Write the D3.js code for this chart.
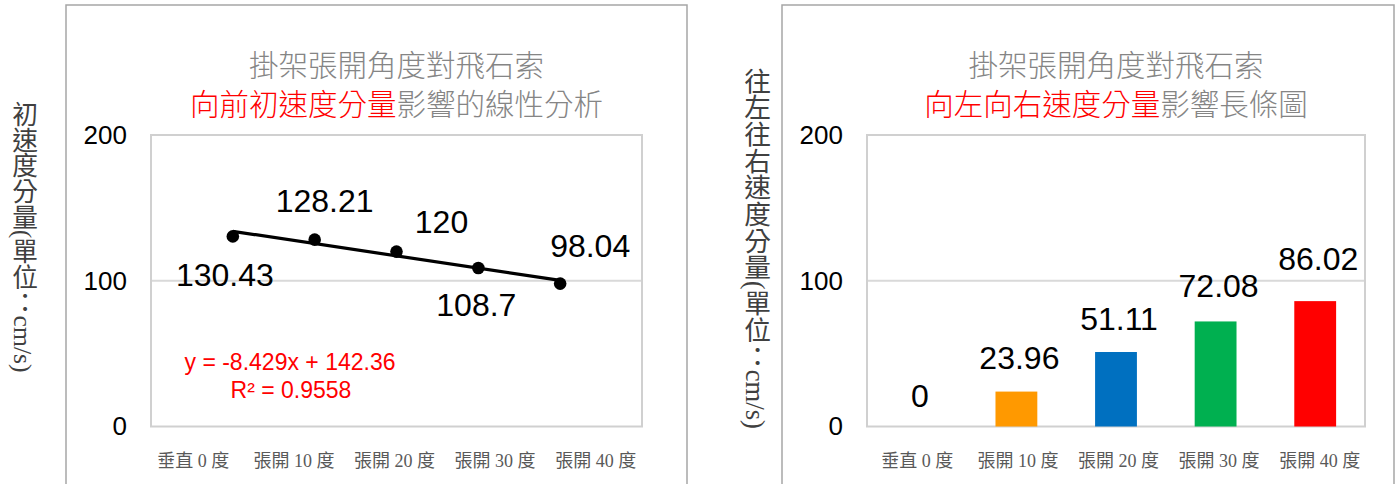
<!DOCTYPE html>
<html>
<head>
<meta charset="utf-8">
<script src="https://cdn.jsdelivr.net/npm/d3@7"></script>
<style>
  html, body { margin: 0; padding: 0; background: #fff; }
  svg { display: block; }
</style>
</head>
<body>
<svg id="chart" width="1400" height="484"></svg>
<script>
// ---- data ----
const categories = ["垂直 0 度", "張開 10 度", "張開 20 度", "張開 30 度", "張開 40 度"];
const forwardSpeed = [130.43, 128.21, 120, 108.7, 98.04];     // 向前初速度分量 (cm/s)
const sideSpeed = [0, 23.96, 51.11, 72.08, 86.02];            // 往左往右速度分量 (cm/s)
const trendSlope = -8.429;
const trendIntercept = 142.36;
const trendR2 = 0.9558;
const yTicks = [0, 100, 200];
const barColors = ["#4472C4", "#FF9900", "#0070C0", "#00B050", "#FF0000"];

const svg = d3.select("#chart");
const NUM_FONT = "'Liberation Sans', Arial, sans-serif";
const CJK_FONT = "'Noto Sans CJK TC', 'Noto Sans', sans-serif";
const SERIF_MIX = "'Liberation Serif', 'Noto Sans CJK TC', serif";

function drawFrame(fx, fw) {
  svg.append("rect")
    .attr("x", fx).attr("y", 5).attr("width", fw).attr("height", 520)
    .attr("fill", "#fff").attr("stroke", "#a6a6a6").attr("stroke-width", 1.5);
}

function drawTitle(cx, line2Red, line2Gray) {
  svg.append("text")
    .attr("x", cx).attr("y", 76)
    .attr("text-anchor", "middle")
    .style("font-family", CJK_FONT).style("font-size", "29.5px").style("font-weight", 300)
    .attr("fill", "#858585").text("掛架張開角度對飛石索");
  const t2 = svg.append("text")
    .attr("x", cx).attr("y", 115)
    .attr("text-anchor", "middle")
    .style("font-family", CJK_FONT).style("font-size", "29.5px").style("font-weight", 300);
  t2.append("tspan").attr("fill", "#FF0000").text(line2Red);
  t2.append("tspan").attr("fill", "#858585").text(line2Gray);
}

function drawYAxisTitle(cx, cy, size, label) {
  svg.append("text")
    .attr("x", cx).attr("y", cy)
    .attr("text-anchor", "middle")
    .style("writing-mode", "vertical-rl")
    .style("font-family", SERIF_MIX).style("font-size", size + "px")
    .attr("fill", "#404040").text(label);
}

function drawPlotBox(y, left, right) {
  const top = y(200), bottom = y(0);
  const g = svg.append("g");
  // gridline at 100
  g.append("line")
    .attr("x1", left).attr("x2", right)
    .attr("y1", y(100)).attr("y2", y(100))
    .attr("stroke", "#d9d9d9").attr("stroke-width", 2);
  g.append("rect")
    .attr("x", left).attr("y", top)
    .attr("width", right - left).attr("height", bottom - top)
    .attr("fill", "none").attr("stroke", "#d0d0d0").attr("stroke-width", 2);
  // y tick labels via d3 axis
  const axis = d3.axisLeft(y).tickValues(yTicks).tickSize(0).tickPadding(24);
  const ag = svg.append("g").attr("transform", `translate(${left},0)`).call(axis);
  ag.select(".domain").remove();
  ag.selectAll("text")
    .style("font-family", NUM_FONT).style("font-size", "26px")
    .attr("fill", "#000");
}

function drawCategoryLabels(band) {
  const axis = d3.axisBottom(band).tickSize(0).tickPadding(0);
  const g = svg.append("g").attr("transform", "translate(0,454)").call(axis);
  g.select(".domain").remove();
  g.selectAll("text")
    .style("font-family", SERIF_MIX).style("font-size", "18px")
    .attr("fill", "#595959");
}

// ================= Left chart: forward speed with linear trend =================
{
  const left = 151, right = 642, top = 135, bottom = 426.5;
  drawFrame(66, 621);
  drawTitle((left + right) / 2, "向前初速度分量", "影響的線性分析");
  drawYAxisTitle(22, 237, 25.7, "初速度分量(單位：cm/s)");

  const y = d3.scaleLinear().domain([0, 200]).range([bottom, top]);
  const x = d3.scaleLinear().domain([0, 6]).range([left, right]);
  drawPlotBox(y, left, right);

  const labelBand = d3.scaleBand().domain(categories).range([143, 646]);
  drawCategoryLabels(labelBand);

  const pts = forwardSpeed.map((v, i) => ({ x: i + 1, v }));

  // trend line over the observed range
  const trend = d3.line()
    .x(d => x(d))
    .y(d => y(trendSlope * d + trendIntercept));
  svg.append("path")
    .datum([1, pts.length])
    .attr("d", trend)
    .attr("fill", "none").attr("stroke", "#000").attr("stroke-width", 3.2);

  svg.append("g").selectAll("circle").data(pts).join("circle")
    .attr("cx", d => x(d.x)).attr("cy", d => y(d.v))
    .attr("r", 6.3).attr("fill", "#000");

  // value labels, placed around each marker
  const place = [[-8, 50], [10, -28], [45, -19], [-2, 48], [30, -27]];
  svg.append("g").selectAll("text").data(pts).join("text")
    .attr("x", (d, i) => x(d.x) + place[i][0])
    .attr("y", (d, i) => y(d.v) + place[i][1])
    .attr("text-anchor", "middle")
    .style("font-family", NUM_FONT).style("font-size", "32px")
    .attr("fill", "#000")
    .text(d => d3.format("")(d.v));

  // regression equation
  const eq = svg.append("text")
    .attr("text-anchor", "middle")
    .style("font-family", NUM_FONT).style("font-size", "23px")
    .attr("fill", "#FF0000");
  eq.append("tspan").attr("x", 290).attr("y", 370)
    .text(`y = ${trendSlope}x + ${trendIntercept}`);
  eq.append("tspan").attr("x", 291).attr("y", 398)
    .text(`R² = ${trendR2}`);
}

// ================= Right chart: sideways speed bars =================
{
  const left = 867, right = 1365, top = 135, bottom = 426.5;
  drawFrame(782, 612);
  drawTitle((left + right) / 2, "向左向右速度分量", "影響長條圖");
  drawYAxisTitle(755, 248, 26.7, "往左往右速度分量(單位：cm/s)");

  const y = d3.scaleLinear().domain([0, 200]).range([bottom, top]);
  const x = d3.scaleBand().domain(categories).range([left, right]).paddingInner(0.58).paddingOuter(0.29);
  drawPlotBox(y, left, right);

  const labelBand = d3.scaleBand().domain(categories).range([left, right + 5]);
  drawCategoryLabels(labelBand);

  const data = categories.map((c, i) => ({ c, v: sideSpeed[i], color: barColors[i] }));

  svg.append("g").selectAll("rect").data(data).join("rect")
    .attr("x", d => x(d.c)).attr("width", x.bandwidth())
    .attr("y", d => y(d.v)).attr("height", d => y(0) - y(d.v))
    .attr("fill", d => d.color);

  // value labels above each bar
  const lift = [20, 23, 22, 24, 31];
  svg.append("g").selectAll("text").data(data).join("text")
    .attr("x", d => x(d.c) + x.bandwidth() / 2 + 3)
    .attr("y", (d, i) => y(d.v) - lift[i])
    .attr("text-anchor", "middle")
    .style("font-family", NUM_FONT).style("font-size", "32px")
    .attr("fill", "#000")
    .text(d => d3.format("")(d.v));
}
</script>
</body>
</html>
